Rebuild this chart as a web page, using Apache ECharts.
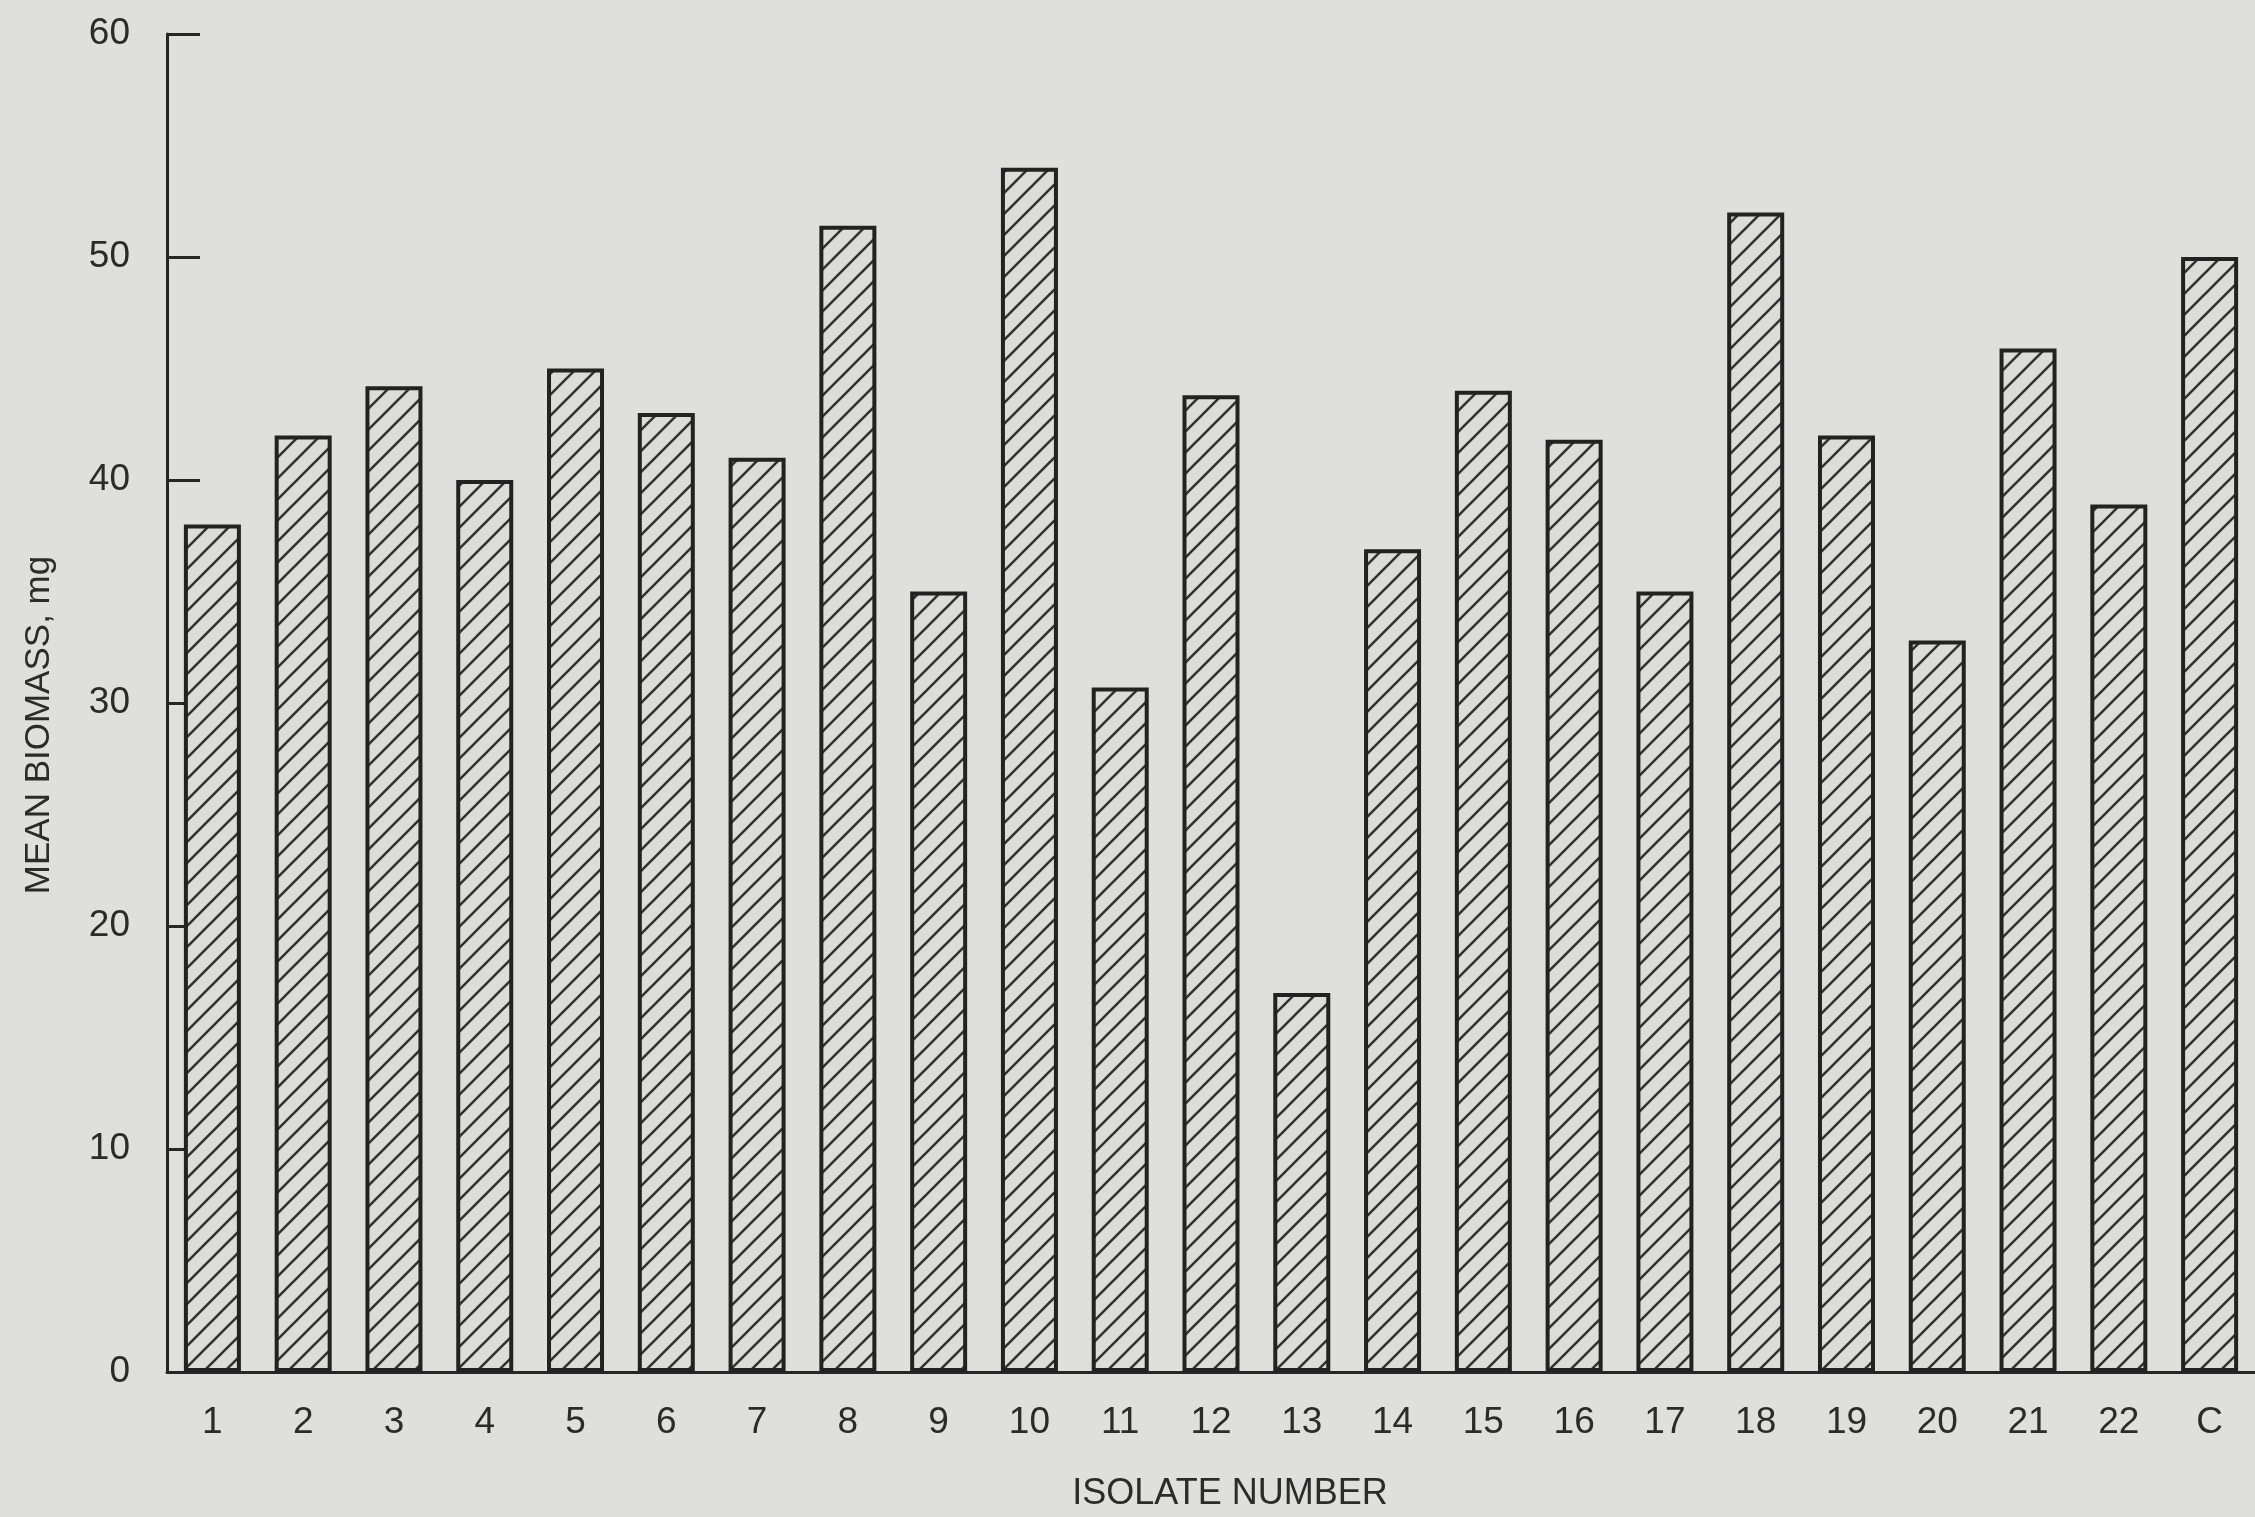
<!DOCTYPE html>
<html><head><meta charset="utf-8">
<script src="https://cdn.jsdelivr.net/npm/echarts@6/dist/echarts.min.js"></script>
<style>html,body{margin:0;padding:0;background:#dfdfdd;} #c{width:2255px;height:1517px;}</style>
</head><body><div id="c"></div>
<script>
// ---- data ----
const categories = ['1','2','3','4','5','6','7','8','9','10','11','12','13','14','15','16','17','18','19','20','21','22','C'];
const biomass = [38.0, 42.0, 44.2, 40.0, 45.0, 43.0, 41.0, 51.4, 35.0, 54.0, 30.7, 43.8, 17.0, 36.9, 44.0, 41.8, 35.0, 52.0, 42.0, 32.8, 45.9, 38.9, 50.0];
const yMin = 0, yMax = 60, yStep = 10;
const yTitle = 'MEAN BIOMASS, mg';
const xTitle = 'ISOLATE NUMBER';

// ---- hatch pattern ----
function hatch() {
  const s = 21;
  const c = document.createElement('canvas');
  c.width = s; c.height = s;
  const g = c.getContext('2d');
  g.fillStyle = '#dcdcda';
  g.fillRect(0, 0, s, s);
  g.strokeStyle = '#333333';
  g.lineWidth = 2.6;
  g.beginPath();
  g.moveTo(-2, s + 2); g.lineTo(s + 2, -2);
  g.moveTo(-2, 2); g.lineTo(2, -2);
  g.moveTo(s - 2, s + 2); g.lineTo(s + 2, s - 2);
  g.stroke();
  return c;
}

const FONT = 'Liberation Sans';
const TXT = '#2b2b2b';
const chart = echarts.init(document.getElementById('c'), null, {renderer: 'canvas'});
chart.setOption({
  backgroundColor: '#dfdfdd',
  animation: false,
  grid: {left: 167, right: -6, top: 34, bottom: 142, containLabel: false},
  xAxis: {
    type: 'category',
    data: categories,
    boundaryGap: true,
    axisLine: {show: true, lineStyle: {color: '#262626', width: 3}},
    axisTick: {show: false},
    axisLabel: {color: TXT, fontFamily: FONT, fontSize: 37, margin: 32},
    name: xTitle,
    nameLocation: 'middle',
    nameGap: 104,
    nameTextStyle: {color: TXT, fontFamily: FONT, fontSize: 36, padding: [0, 0, 0, 38]},
    splitLine: {show: false}
  },
  yAxis: {
    type: 'value',
    min: yMin, max: yMax, interval: yStep,
    axisLine: {show: true, lineStyle: {color: '#262626', width: 3}},
    axisTick: {show: true, inside: true, length: 33, lineStyle: {color: '#262626', width: 3}},
    axisLabel: {color: TXT, fontFamily: FONT, fontSize: 37, margin: 37, padding: [18, 0, 0, 0]},
    splitLine: {show: false},
    name: yTitle,
    nameLocation: 'middle',
    nameRotate: 90,
    nameGap: 110,
    nameTextStyle: {color: TXT, fontFamily: FONT, fontSize: 35, padding: [0, 44, 0, 0]}
  },
  series: [{
    type: 'bar',
    data: biomass,
    barWidth: 57,
    itemStyle: {
      color: {image: hatch(), repeat: 'repeat'},
      borderColor: '#222222',
      borderWidth: 4
    }
  }]
});
</script>
</body></html>
